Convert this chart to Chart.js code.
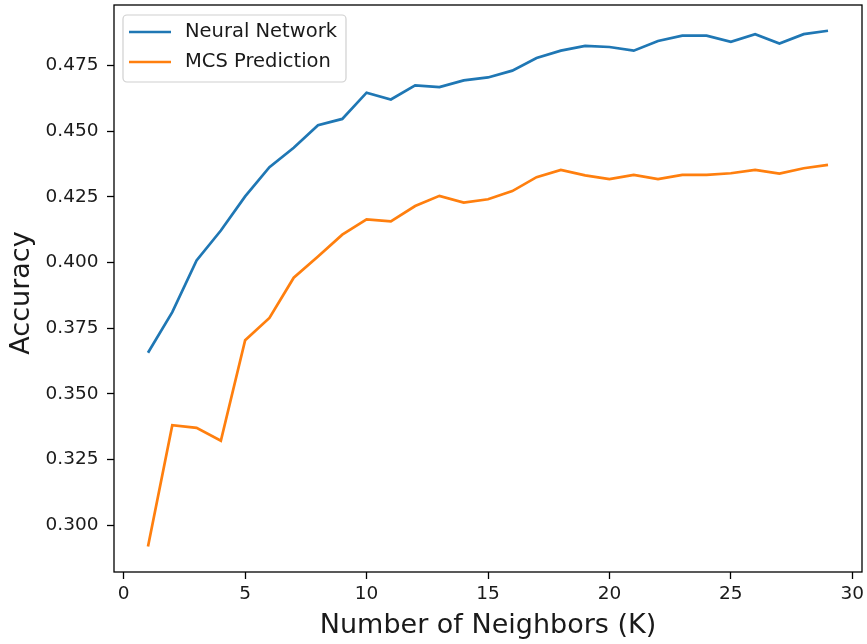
<!DOCTYPE html>
<html>
<head>
<meta charset="utf-8">
<script src="https://cdn.jsdelivr.net/npm/chart.js@4.4.1/dist/chart.umd.min.js"></script>
<style>
  html, body { margin: 0; padding: 0; background: #ffffff; }
  #wrap { width: 867px; height: 644px; }
</style>
</head>
<body>
<div id="wrap"><canvas id="c" width="867" height="644"></canvas></div>
<script>
// ---- Data ----
const kValues = [1,2,3,4,5,6,7,8,9,10,11,12,13,14,15,16,17,18,19,20,21,22,23,24,25,26,27,28,29];
const neuralNetwork = [0.3656,0.3811,0.4008,0.4122,0.4252,0.4363,0.4437,0.4523,0.4547,0.4647,0.4621,0.4675,0.4668,0.4694,0.4705,0.4731,0.4779,0.4807,0.4825,0.4821,0.4807,0.4844,0.4864,0.4864,0.4841,0.4870,0.4834,0.4870,0.4883];
const mcsPrediction = [0.2918,0.3380,0.3370,0.3321,0.3704,0.3789,0.3942,0.4023,0.4106,0.4164,0.4157,0.4215,0.4254,0.4228,0.4241,0.4272,0.4325,0.4353,0.4332,0.4318,0.4334,0.4318,0.4334,0.4334,0.4340,0.4353,0.4339,0.4359,0.4372];
const seriesLabels = ["Neural Network", "MCS Prediction"];
const xTicks = [0,5,10,15,20,25,30];
const yTicks = [0.300,0.325,0.350,0.375,0.400,0.425,0.450,0.475];
const xLabel = "Number of Neighbors (K)";
const yLabel = "Accuracy";

const FONT = "'DejaVu Sans', 'Liberation Sans', sans-serif";
const TXT = '#1a1a1a';

const framePlugin = {
  id: 'frame',
  afterDatasetsDraw(chart) {
    const {ctx, chartArea: a} = chart;
    ctx.save();
    ctx.strokeStyle = '#000';
    ctx.lineWidth = 1.3;
    ctx.strokeRect(a.left, a.top, a.right - a.left, a.bottom - a.top);
    ctx.restore();
  }
};

// y-axis title, placed like matplotlib's ylabel
const yTitlePlugin = {
  id: 'yTitle',
  afterDraw(chart) {
    const {ctx, chartArea: a} = chart;
    ctx.save();
    ctx.translate(28.5, (a.top + a.bottom) / 2 + 4.5);
    ctx.rotate(-Math.PI / 2);
    ctx.fillStyle = TXT;
    ctx.font = "27px " + FONT;
    ctx.textAlign = 'center';
    ctx.textBaseline = 'alphabetic';
    ctx.fillText(yLabel, 0, 0);
    ctx.restore();
  }
};

const legendPlugin = {
  id: 'mplLegend',
  afterDraw(chart) {
    const {ctx, chartArea: a} = chart;
    const x0 = a.left + 9, y0 = a.top + 10, w = 223, h = 67, r = 4;
    ctx.save();
    ctx.beginPath();
    ctx.moveTo(x0 + r, y0);
    ctx.lineTo(x0 + w - r, y0);
    ctx.arcTo(x0 + w, y0, x0 + w, y0 + r, r);
    ctx.lineTo(x0 + w, y0 + h - r);
    ctx.arcTo(x0 + w, y0 + h, x0 + w - r, y0 + h, r);
    ctx.lineTo(x0 + r, y0 + h);
    ctx.arcTo(x0, y0 + h, x0, y0 + h - r, r);
    ctx.lineTo(x0, y0 + r);
    ctx.arcTo(x0, y0, x0 + r, y0, r);
    ctx.closePath();
    ctx.fillStyle = 'rgba(255,255,255,0.8)';
    ctx.fill();
    ctx.strokeStyle = '#d0d0d0';
    ctx.lineWidth = 1.2;
    ctx.stroke();
    chart.data.datasets.forEach((ds, i) => {
      const ly = y0 + 17 + i * 30;
      ctx.beginPath();
      ctx.moveTo(x0 + 6, ly);
      ctx.lineTo(x0 + 48, ly);
      ctx.strokeStyle = ds.borderColor;
      ctx.lineWidth = ds.borderWidth;
      ctx.stroke();
      ctx.fillStyle = TXT;
      ctx.font = "19.5px " + FONT;
      ctx.textBaseline = 'middle';
      ctx.textAlign = 'left';
      ctx.fillText(ds.label, x0 + 62, ly);
    });
    ctx.restore();
  }
};

const toPoints = (ys) => kValues.map((k, i) => ({x: k, y: ys[i]}));

new Chart(document.getElementById('c'), {
  type: 'line',
  data: {
    datasets: [
      { label: seriesLabels[0], data: toPoints(neuralNetwork), borderColor: '#1f77b4', backgroundColor: '#1f77b4', borderWidth: 2.7, pointRadius: 0, tension: 0, fill: false },
      { label: seriesLabels[1], data: toPoints(mcsPrediction), borderColor: '#ff7f0e', backgroundColor: '#ff7f0e', borderWidth: 2.7, pointRadius: 0, tension: 0, fill: false }
    ]
  },
  options: {
    responsive: false,
    animation: false,
    devicePixelRatio: 1,
    layout: { padding: { top: 5, right: 5, left: 0, bottom: 0 } },
    plugins: { legend: { display: false }, tooltip: { enabled: false } },
    scales: {
      x: {
        type: 'linear',
        min: -0.4, max: 30.4,
        afterBuildTicks: (s) => { s.ticks = xTicks.map(v => ({value: v})); },
        afterFit: (s) => { s.height = 72; s.paddingLeft = 0; s.paddingRight = 0; },
        ticks: { color: TXT, font: { family: FONT, size: 18.5 }, padding: 4, maxRotation: 0, autoSkip: false, callback: (v) => String(v) },
        grid: { display: true, drawOnChartArea: false, drawTicks: true, tickLength: 7, tickColor: '#000', tickWidth: 1.3 },
        border: { display: false },
        title: { display: true, text: xLabel, color: TXT, font: { family: FONT, size: 27 }, padding: { top: 0, bottom: 2 } }
      },
      y: {
        type: 'linear',
        min: 0.2821, max: 0.4981,
        afterBuildTicks: (s) => { s.ticks = yTicks.map(v => ({value: v})); },
        afterFit: (s) => { s.width = 114; s.paddingTop = 0; s.paddingBottom = 0; },
        ticks: { color: TXT, font: { family: FONT, size: 18.5 }, padding: 8.5, autoSkip: false, callback: (v) => Number(v).toFixed(3) },
        grid: { display: true, drawOnChartArea: false, drawTicks: true, tickLength: 7, tickColor: '#000', tickWidth: 1.3 },
        border: { display: false },
        title: { display: false, text: yLabel }
      }
    }
  },
  plugins: [framePlugin, legendPlugin, yTitlePlugin]
});
</script>
</body>
</html>
